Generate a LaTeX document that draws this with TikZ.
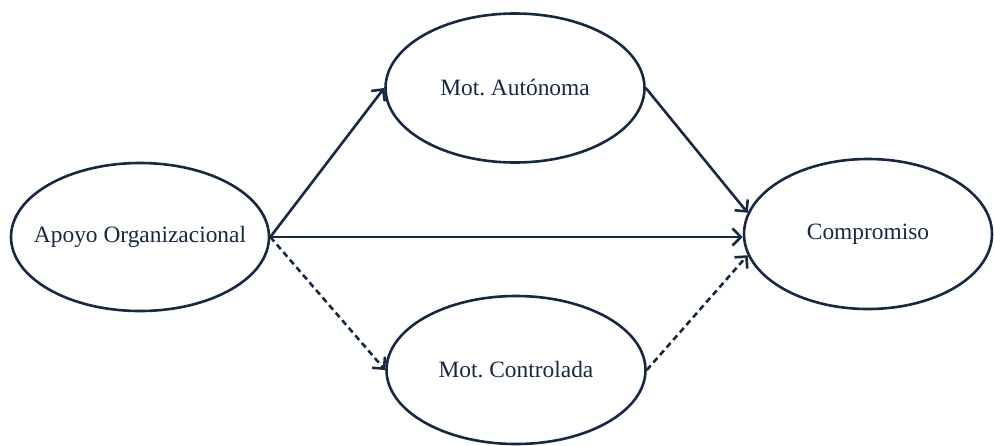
\documentclass[tikz,border=0pt]{standalone}
\usepackage{fontspec}
\setmainfont{Liberation Serif}
\usetikzlibrary{arrows.meta,shapes.geometric}
\definecolor{navy}{RGB}{22,40,68}
\tikzset{
    %Define standard arrow tip
    >={Straight Barb[length=4.2pt,width=8.5pt]},
    %Define style for latent variables
    latent/.style={
           ellipse,
           draw=navy,
           line width=1.3pt,
           inner xsep=-40pt,
           inner ysep=0pt,
           text=navy,
           font=\fontsize{11.7}{14}\selectfont,},
    %Define style for paths
    pil/.style={
           ->,
           draw=navy,
           line width=1.3pt,},
    dashpil/.style={
           pil,
           dash pattern=on 3pt off 2pt,}
}

\begin{document}
\frenchspacing
\begin{tikzpicture}[x=0.5pt,y=-0.5pt]
 \useasboundingbox (0,0) rectangle (994,445);
 %nodes
 \node[latent, minimum width=129pt, minimum height=74pt] (apoyo) at (140,237) {Apoyo Organizacional};
 \node[latent, minimum width=129.5pt, minimum height=74.5pt] (autonoma) at (515,88) {Mot. Autónoma};
 \node[latent, minimum width=129.5pt, minimum height=74pt] (controlada) at (516,370) {Mot. Controlada};
 \node[latent, minimum width=124pt, minimum height=75pt] (compromiso) at (868,234) {Compromiso};

 %paths
 \draw[pil] (apoyo.east) -- (autonoma.west);
 \draw[pil] (apoyo.east) -- (apoyo.east -| compromiso.west);
 \draw[dashpil] (apoyo.east) -- (controlada.west);
 \draw[pil] (autonoma.east) -- (compromiso.170);
 \draw[dashpil] (controlada.east) -- (compromiso.190);

\end{tikzpicture}
\end{document}
